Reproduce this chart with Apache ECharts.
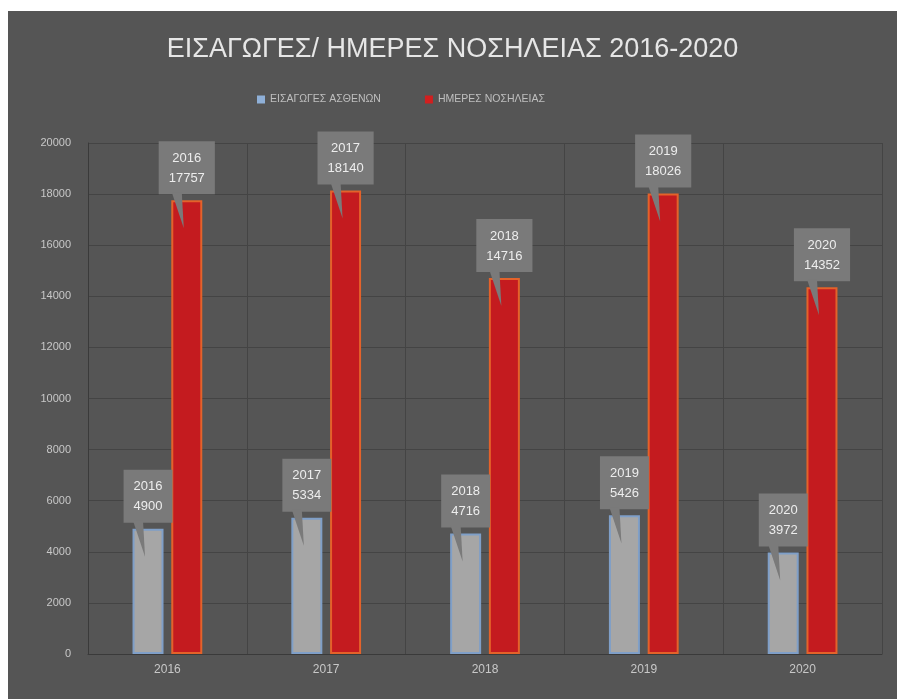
<!DOCTYPE html>
<html>
<head>
<meta charset="utf-8">
<script src="https://cdn.jsdelivr.net/npm/echarts@6/dist/echarts.min.js"></script>
<style>
html,body{margin:0;padding:0;background:#fff;width:897px;height:699px;overflow:hidden;}
#chart{position:absolute;left:8px;top:11px;width:889px;height:688px;}
</style>
</head>
<body>
<div id="chart"></div>
<script>
const titleText = 'ΕΙΣΑΓΩΓΕΣ/ ΗΜΕΡΕΣ ΝΟΣΗΛΕΙΑΣ 2016-2020';
const years = ['2016', '2017', '2018', '2019', '2020'];
const seriesNames = ['ΕΙΣΑΓΩΓΕΣ ΑΣΘΕΝΩΝ', 'ΗΜΕΡΕΣ ΝΟΣΗΛΕΙΑΣ'];
const admissions = [4900, 5334, 4716, 5426, 3972];
const hospitalDays = [17757, 18140, 14716, 18026, 14352];

const BAR_W = 31;
const BAR_GAP = 0.25;
const HALF = (BAR_W + BAR_W * BAR_GAP) / 2;

const chart = echarts.init(document.getElementById('chart'), null, {renderer: 'canvas'});
const labelCfg = {
  show: true,
  position: 'top',
  distance: 6,
  formatter: p => p.name + '\n' + p.value,
  color: '#ededed',
  fontFamily: 'Liberation Sans',
  fontSize: 13,
  lineHeight: 20,
  backgroundColor: '#7a7a7a',
  padding: [7, 10, 6, 10]
};
function tailSeries(values, side) {
  return {
    type: 'custom',
    silent: true,
    z: 5,
    data: values.map((v, i) => [i, v]),
    renderItem: function (params, api) {
      const pt = api.coord([api.value(0), api.value(1)]);
      const cx = pt[0] + side * HALF;
      const top = pt[1];
      return {
        type: 'polygon',
        shape: {points: [[cx - 15, top - 8], [cx - 5, top - 8], [cx - 3, top + 28]]},
        style: {fill: '#7a7a7a'}
      };
    }
  };
}
chart.setOption({
  backgroundColor: '#555555',
  animation: false,
  title: {
    text: titleText,
    left: 'center',
    top: 20,
    textStyle: {color: '#e6e6e6', fontSize: 27, fontWeight: 'normal', fontFamily: 'Liberation Sans'}
  },
  legend: {
    top: 78,
    left: 244,
    itemWidth: 8,
    itemHeight: 8,
    itemGap: 44,
    icon: 'rect',
    textStyle: {color: '#bfbfbf', fontSize: 10.5, fontFamily: 'Liberation Sans'},
    data: [
      {name: seriesNames[0], itemStyle: {color: '#8fb0d8', borderWidth: 0}},
      {name: seriesNames[1], itemStyle: {color: '#d21f1f', borderWidth: 0}}
    ]
  },
  grid: {left: 80, right: 15, top: 132, bottom: 45},
  xAxis: {
    type: 'category',
    data: years,
    axisLine: {show: true, lineStyle: {color: '#3a3a3a'}},
    axisTick: {show: false},
    splitLine: {show: true, lineStyle: {color: '#444444'}},
    axisLabel: {color: '#c8c8c8', fontSize: 12, margin: 10, fontFamily: 'Liberation Sans'}
  },
  yAxis: {
    type: 'value',
    min: 0,
    max: 20000,
    interval: 2000,
    axisLine: {show: true, lineStyle: {color: '#3a3a3a'}},
    axisLabel: {color: '#c8c8c8', fontSize: 11, margin: 17, fontFamily: 'Liberation Sans', formatter: v => String(v)},
    splitLine: {show: true, lineStyle: {color: '#444444'}}
  },
  series: [
    {
      name: seriesNames[0],
      type: 'bar',
      data: admissions,
      barWidth: BAR_W,
      barGap: (BAR_GAP * 100) + '%',
      itemStyle: {color: '#a6a6a6', borderColor: '#7f9fc8', borderWidth: 2},
      label: labelCfg
    },
    {
      name: seriesNames[1],
      type: 'bar',
      data: hospitalDays,
      barWidth: BAR_W,
      itemStyle: {color: '#c41b1f', borderColor: '#e4622a', borderWidth: 2},
      label: labelCfg
    },
    tailSeries(admissions, -1),
    tailSeries(hospitalDays, 1)
  ]
});
</script>
</body>
</html>
